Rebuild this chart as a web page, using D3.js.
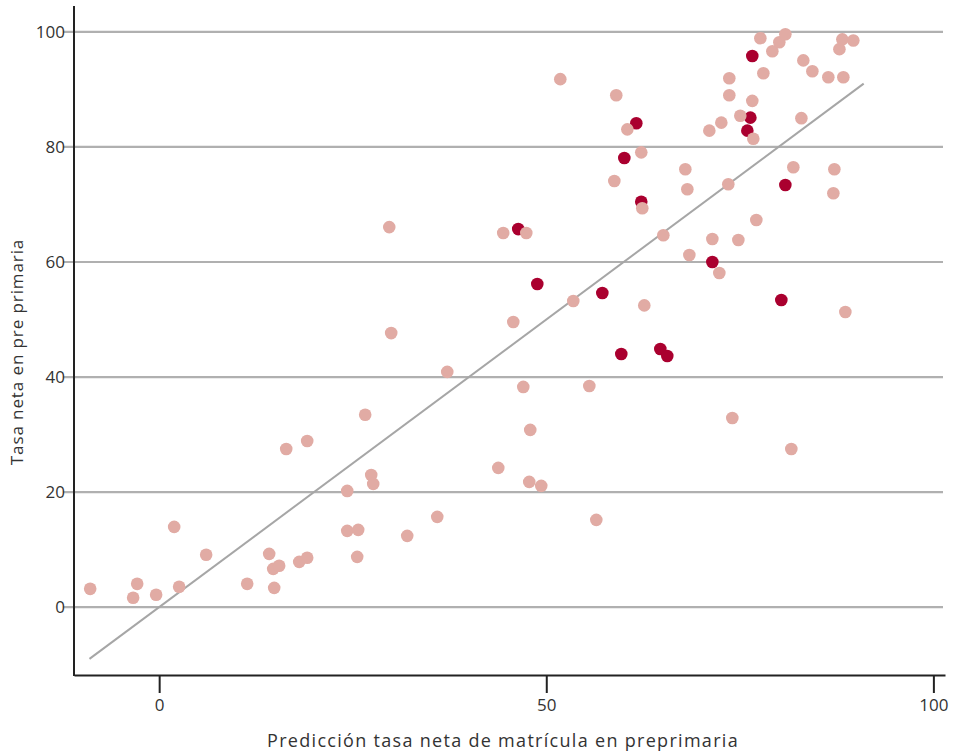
<!DOCTYPE html>
<html><head><meta charset="utf-8">
<script src="https://cdn.jsdelivr.net/npm/d3@7"></script>
<style>
html,body{margin:0;padding:0;background:#fff;}
svg{display:block;font-family:"Open Sans",sans-serif;}
</style></head>
<body>
<script>
// Light (other) observations: predicted (x) vs actual (y)
const lightX = [-8.91,-2.84,-3.36,-0.39,2.58,1.94,6.07,11.37,14.21,14.73,15.50,14.86,16.41,18.09,19.12,19.12,24.29,24.29,25.71,25.58,26.61,27.39,27.65,29.72,29.97,32.04,35.92,37.21,43.80,44.44,47.42,45.74,47.03,47.93,47.80,49.35,51.81,53.49,55.56,56.46,58.79,59.04,60.47,62.27,62.40,62.66,65.12,67.96,68.22,68.48,71.06,71.45,72.35,72.61,73.51,73.64,73.64,74.03,74.81,75.06,76.61,76.74,77.13,77.65,78.04,79.20,80.10,80.88,81.65,81.91,83.20,82.95,84.37,86.43,87.21,87.08,87.86,88.24,88.37,88.63,89.66];
const lightY = [3.18,4.05,1.62,2.14,3.53,13.95,9.10,4.05,9.26,6.65,7.18,3.35,27.5,7.87,8.57,28.89,20.20,13.26,13.43,8.74,33.44,22.98,21.42,66.06,47.64,12.39,15.69,40.89,24.20,65.04,65.04,49.57,38.28,30.81,21.77,21.08,91.78,53.21,38.45,15.17,74.08,88.98,83.06,79.06,69.33,52.45,64.65,76.12,72.65,61.21,82.83,63.99,58.08,84.22,73.52,88.98,91.94,32.88,63.82,85.43,88.01,81.41,67.29,98.90,92.81,96.63,98.19,99.58,27.50,76.47,95.04,85.00,93.15,92.11,76.12,71.95,97.0,98.7,92.11,51.3,98.5];
// Highlighted observations
const darkX = [46.38,48.84,57.24,59.69,60.08,61.63,62.27,64.73,65.63,71.45,75.97,76.36,76.61,80.36,80.88];
const darkY = [65.72,56.17,54.6,44.0,78.07,84.13,70.47,44.87,43.66,59.99,82.83,85.09,95.8,53.39,73.38];
// 45-degree reference line
const lineX = [-9, 91];
const lineY = [-9, 91];
const xTicks = [0, 50, 100];
const yTicks = [0, 20, 40, 60, 80, 100];
const xTitle = "Predicción tasa neta de matrícula en preprimaria";
const yTitle = "Tasa neta en pre primaria";

const W = 953, H = 754;
const svg = d3.select("body").append("svg").attr("width", W).attr("height", H);

const x = d3.scaleLinear().domain([-11, 101.5]).range([74, 945]);
const y = d3.scaleLinear().domain([-11.8, 104.5]).range([675, 6]);

// gridlines
svg.append("g").selectAll("line").data(yTicks).join("line")
  .attr("x1", 63).attr("x2", 943)
  .attr("y1", d => y(d)).attr("y2", d => y(d))
  .attr("stroke", "#b0b0b0").attr("stroke-width", 2.2);

// y tick labels
svg.append("g").selectAll("text").data(yTicks).join("text")
  .attr("x", 65).attr("y", d => y(d)).attr("dy", "0.35em")
  .attr("text-anchor", "end").attr("font-size", 17).attr("fill", "#333")
  .text(d => d);

// reference line
svg.append("line")
  .attr("x1", x(lineX[0])).attr("y1", y(lineY[0]))
  .attr("x2", x(lineX[1])).attr("y2", y(lineY[1]))
  .attr("stroke", "#a6a6a6").attr("stroke-width", 2);

// points
svg.append("g").selectAll("circle").data(darkX.map((d,i)=>[d,darkY[i]])).join("circle")
  .attr("cx", d => x(d[0])).attr("cy", d => y(d[1])).attr("r", 6.3)
  .attr("fill", "#aa002f");
svg.append("g").selectAll("circle").data(lightX.map((d,i)=>[d,lightY[i]])).join("circle")
  .attr("cx", d => x(d[0])).attr("cy", d => y(d[1])).attr("r", 6.3)
  .attr("fill", "#e1aba4");

// x axis
const xAxis = d3.axisBottom(x).tickValues(xTicks).tickSize(18).tickSizeOuter(0).tickPadding(6);
const gx = svg.append("g").attr("transform", "translate(0,675)").call(xAxis);
gx.select(".domain").attr("stroke", "#222").attr("stroke-width", 2);
gx.selectAll(".tick line").attr("stroke", "#222").attr("stroke-width", 2);
gx.selectAll(".tick text").attr("font-size", 17).attr("fill", "#333").attr("font-family", "Open Sans");

// y axis line
svg.append("line").attr("x1", 74).attr("x2", 74).attr("y1", 6).attr("y2", 676)
  .attr("stroke", "#222").attr("stroke-width", 2);

// titles
svg.append("text").attr("x", 503).attr("y", 747).attr("text-anchor", "middle")
  .attr("font-size", 18).attr("fill", "#333").attr("letter-spacing", "1.3px").text(xTitle);
svg.append("text").attr("transform", "translate(23,352) rotate(-90)").attr("text-anchor", "middle")
  .attr("font-size", 17).attr("fill", "#333").attr("letter-spacing", "0.9px").text(yTitle);
</script>
</body></html>
